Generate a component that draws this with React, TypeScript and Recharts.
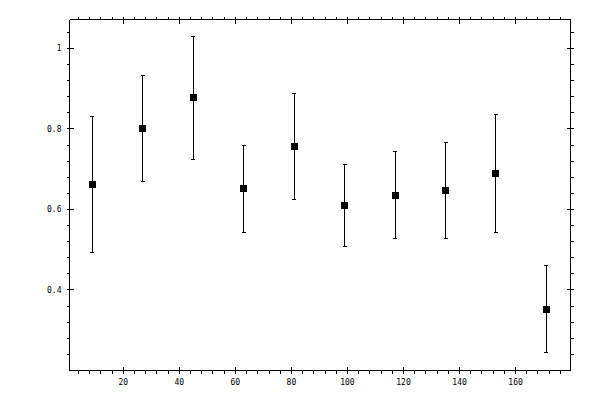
import React from 'react';
import { ErrorBar, Scatter, ScatterChart, XAxis, YAxis } from 'recharts';

// measured points (x position, value, symmetric error)
const xValues = [9, 27, 45, 63, 81, 99, 117, 135, 153, 171];
const yValues = [0.662, 0.801, 0.878, 0.652, 0.757, 0.61, 0.635, 0.647, 0.689, 0.352];
const yErrors = [0.169, 0.131, 0.153, 0.108, 0.131, 0.103, 0.108, 0.119, 0.147, 0.108];

const xMajorTicks = [20, 40, 60, 80, 100, 120, 140, 160];
const xMinorTicks = [
  4, 8, 12, 16, 24, 28, 32, 36, 44, 48, 52, 56, 64, 68, 72, 76, 84, 88, 92, 96, 104, 108, 112, 116,
  124, 128, 132, 136, 144, 148, 152, 156, 164, 168, 172, 176,
];
const yMajorTicks = [0.4, 0.6, 0.8, 1];
const yMinorTicks = [
  0.24, 0.28, 0.32, 0.36, 0.44, 0.48, 0.52, 0.56, 0.64, 0.68, 0.72, 0.76, 0.84, 0.88, 0.92, 0.96, 1.04,
];

const xDomain = [0.8, 179.6];
const yDomain = [0.2, 1.072];

const data = xValues.map((x, i) => ({ x, y: yValues[i], err: yErrors[i] }));
const xTicks = [...xMajorTicks, ...xMinorTicks].sort((a, b) => a - b);
const yTicks = [...yMajorTicks, ...yMinorTicks].sort((a, b) => a - b);

type Side = 'top' | 'bottom' | 'left' | 'right';
const outward: Record<Side, [number, number]> = {
  top: [0, -1],
  bottom: [0, 1],
  left: [-1, 0],
  right: [1, 0],
};

const fontFamily = '"DejaVu Sans Mono", monospace';

const makeTick = (side: Side, majors: number[], showLabel: boolean) => (props: any) => {
  const { x, y, payload } = props;
  const value = payload.value as number;
  const major = majors.some((m) => Math.abs(m - value) < 1e-6);
  const [dx, dy] = outward[side];
  const inLen = major ? 4 : 0;
  const outLen = 3;
  let label = null;
  if (showLabel && major) {
    if (side === 'bottom') {
      label = (
        <text x={x} y={y + 14} textAnchor="middle" fontSize={8} fontFamily={fontFamily} fill="#000">
          {value}
        </text>
      );
    } else if (side === 'left') {
      label = (
        <text x={x - 8} y={y + 3} textAnchor="end" fontSize={8} fontFamily={fontFamily} fill="#000">
          {value}
        </text>
      );
    }
  }
  return (
    <g>
      <line
        x1={x - dx * inLen}
        y1={y - dy * inLen}
        x2={x + dx * outLen}
        y2={y + dy * outLen}
        stroke="#000"
        strokeWidth={1}
      />
      {label}
    </g>
  );
};

const SquareMarker = (props: any) => {
  const { cx, cy } = props;
  return <rect x={cx - 3.5} y={cy - 3.5} width={7} height={7} fill="#000" />;
};

const axisLine = { stroke: '#000', strokeWidth: 1 };

export default function App() {
  return (
    <div style={{ position: 'absolute', left: 0, top: 0, background: '#fff', shapeRendering: 'crispEdges' }}>
      <ScatterChart
        width={600}
        height={400}
        margin={{ top: 18.5, right: 28.5, bottom: 28.5, left: 68.5 }}
      >
        <XAxis
          xAxisId="bottom"
          type="number"
          dataKey="x"
          domain={xDomain}
          allowDataOverflow
          ticks={xTicks}
          interval={0}
          height={1}
          tickSize={0}
          tickMargin={0}
          tickLine={false}
          axisLine={axisLine}
          tick={makeTick('bottom', xMajorTicks, true)}
        />
        <XAxis
          xAxisId="top"
          orientation="top"
          type="number"
          dataKey="x"
          domain={xDomain}
          allowDataOverflow
          ticks={xTicks}
          interval={0}
          height={1}
          tickSize={0}
          tickMargin={0}
          tickLine={false}
          axisLine={axisLine}
          tick={makeTick('top', xMajorTicks, false)}
        />
        <YAxis
          yAxisId="left"
          type="number"
          dataKey="y"
          domain={yDomain}
          allowDataOverflow
          ticks={yTicks}
          interval={0}
          width={1}
          tickSize={0}
          tickMargin={0}
          tickLine={false}
          axisLine={axisLine}
          tick={makeTick('left', yMajorTicks, true)}
        />
        <YAxis
          yAxisId="right"
          orientation="right"
          type="number"
          dataKey="y"
          domain={yDomain}
          allowDataOverflow
          ticks={yTicks}
          interval={0}
          width={1}
          tickSize={0}
          tickMargin={0}
          tickLine={false}
          axisLine={axisLine}
          tick={makeTick('right', yMajorTicks, false)}
        />
        <Scatter
          data={data}
          xAxisId="bottom"
          yAxisId="left"
          shape={SquareMarker}
          isAnimationActive={false}
        >
          <ErrorBar
            dataKey="err"
            direction="y"
            width={2}
            stroke="#000"
            strokeWidth={1}
            isAnimationActive={false}
          />
        </Scatter>
      </ScatterChart>
    </div>
  );
}
